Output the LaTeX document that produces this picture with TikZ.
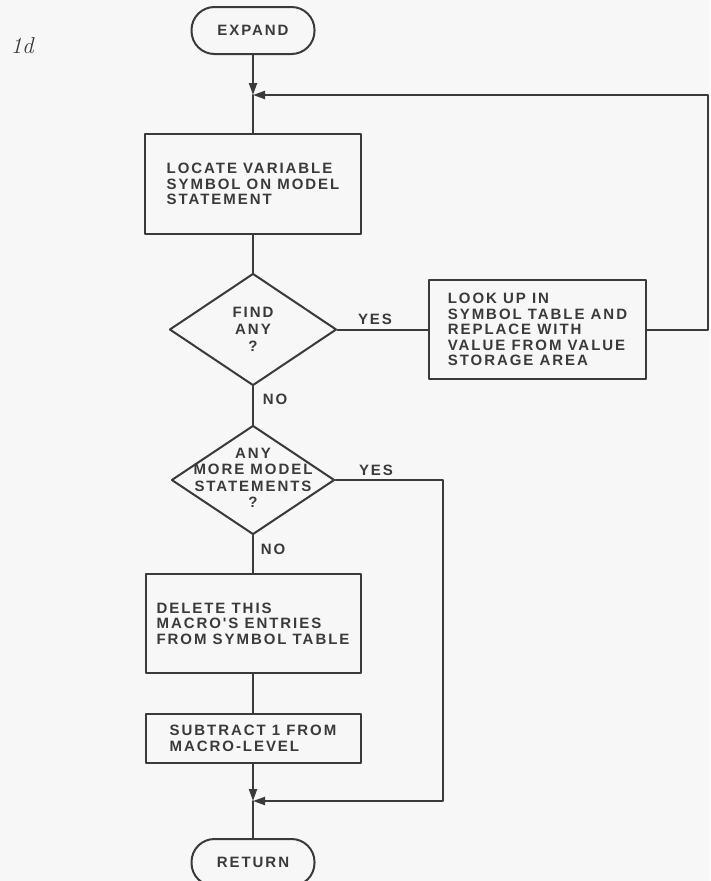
\documentclass[tikz,border=0pt]{standalone}
\usepackage{fontspec}
\newfontfamily\leroy{Liberation Sans}[LetterSpace=13.0]
\usetikzlibrary{shapes.geometric,arrows.meta}
\definecolor{ink}{RGB}{58,58,58}
\definecolor{paper}{RGB}{247,247,247}
\tikzset{wire/.style={draw=ink,line width=2pt},
 flowarrow/.style={wire,-{Triangle[length=12pt,width=8pt]}},
 procbox/.style={draw=ink,line width=2pt,rectangle,align=left,inner sep=0pt},
 terminal/.style={draw=ink,line width=2pt,rectangle,rounded corners=23pt,minimum width=123pt,minimum height=47pt},
 decision/.style={draw=ink,line width=2pt,diamond,inner sep=0pt},
 every node/.style={font=\leroy\bfseries\fontsize{15}{15.5}\selectfont,text=ink},
 every picture/.style={line join=round,line cap=round}}
\begin{document}
\begin{tikzpicture}[x=1pt,y=-1pt]
\path[fill=paper] (0,0) rectangle (710,881);
\useasboundingbox (0,0) rectangle (710,881);
\node[font=\rmfamily\itshape\fontsize{23}{26}\selectfont] (figtag) at (22,46) {1d};
\node[terminal] (expand) at (253,30.5) {EXPAND};
\coordinate (j1) at (253,95);
\node[procbox,minimum width=216pt,minimum height=100pt] (locate) at (253,184) {LOCATE VARIABLE\\SYMBOL ON MODEL\\STATEMENT};
\node[decision,minimum width=167pt,minimum height=112pt] (find) at (253,329.5) {};
\node[align=center,font=\leroy\bfseries\fontsize{15}{17}\selectfont] (findtxt) at (253,329) {FIND\\ANY\\?};
\node[procbox,minimum width=217pt,minimum height=99pt] (lookup) at (537.5,329.5) {LOOK UP IN\\SYMBOL TABLE AND\\REPLACE WITH\\VALUE FROM VALUE\\STORAGE AREA};
\coordinate (c1) at (708,329.5);
\coordinate (c2) at (708,95);
\node[decision,minimum width=163pt,minimum height=109pt] (more) at (253,480) {};
\node[align=center,font=\leroy\bfseries\fontsize{15}{16.5}\selectfont] (moretxt) at (253,478) {ANY\\MORE MODEL\\STATEMENTS\\?};
\coordinate (c3) at (443,480);
\coordinate (c4) at (443,801);
\node[procbox,minimum width=215pt,minimum height=99pt] (delete) at (253,623.5) {DELETE THIS\\MACRO'S ENTRIES\\FROM SYMBOL TABLE};
\node[procbox,minimum width=215pt,minimum height=49pt] (subtract) at (253,738.5) {SUBTRACT 1 FROM\\MACRO-LEVEL};
\coordinate (j2) at (253,801);
\node[terminal] (return) at (253,862.5) {RETURN};
% connectors
\draw[flowarrow] (expand.south) -- (j1);
\draw[flowarrow] (lookup.east) -- (c1) -- (c2) -- (j1);
\draw[wire] (j1) -- (locate.north);
\draw[wire] (locate.south) -- (find.north);
\draw[wire] (find.east) -- (lookup.west);
\draw[wire] (find.south) -- (more.north);
\draw[flowarrow] (more.east) -- (c3) -- (c4) -- (j2);
\draw[wire] (more.south) -- (delete.north);
\draw[wire] (delete.south) -- (subtract.north);
\draw[flowarrow] (subtract.south) -- (j2);
\draw[wire] (j2) -- (return.north);
% branch labels
\node (yesA) at (375,319) {YES};
\node (noA) at (275,399) {NO};
\node (yesB) at (376,470) {YES};
\node (noB) at (273,549) {NO};
\end{tikzpicture}
\end{document}
